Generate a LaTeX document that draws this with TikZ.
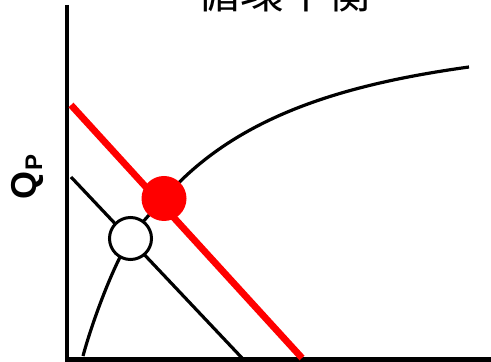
\documentclass[tikz,border=0pt]{standalone}
\usepackage{fontspec}
\setmainfont{Liberation Sans}
\newfontfamily\cjkfont{Noto Sans CJK JP}
\usepackage{tikz}
\usetikzlibrary{positioning}
\usepackage{xcolor}
\definecolor{EqRed}{HTML}{FF0000}

\begin{document}
\begin{tikzpicture}[x=0.5pt, y=-0.5pt,
    axis/.style={line width=2.2pt},
    fnline/.style={line width=1.6pt},
    redline/.style={draw=EqRed, line width=3.4pt},
    eqopen/.style={circle, draw, line width=1.5pt, fill=white, minimum size=21pt, inner sep=0pt},
    eqfill/.style={circle, fill=EqRed, minimum size=22.5pt, inner sep=0pt}
  ]
    \useasboundingbox (0,0) rectangle (491,362);

    \coordinate (o) at (67,359.5);
    \coordinate (ytop) at (67,5);
    \coordinate (xend) at (491,359.5);
    \draw[axis] (ytop) -- (o) -- (xend);

    % shifted (red) and original line
    \coordinate (r1) at (71,105);
    \coordinate (r2) at (302,358);
    \coordinate (b1) at (71,177);
    \coordinate (b2) at (242,358);
    \draw[redline] (r1) -- (r2);
    \draw[fnline] (b1) -- (b2);

    % rising curve through both equilibria
    \coordinate (c0) at (83,356);
    \coordinate (ca) at (130.5,238.5);
    \coordinate (cb) at (164,198.5);
    \coordinate (c9) at (469,67);
    \draw[fnline] (c0) .. controls (93,319) and (114.5,262.5) .. (ca)
                       .. controls (141,222.5) and (153,211) .. (cb)
                       .. controls (234,118) and (339,85) .. (c9);

    \node[eqopen] (eqa) at (ca) {};
    \node[eqfill] (eqb) at (cb) {};

    \node[anchor=base, font=\cjkfont\fontsize{22}{22}\selectfont] (title) at (284,9) {循環平衡};
    \node[rotate=90, font=\bfseries\fontsize{18}{18}\selectfont] (qp) at (27,177) {Q\raisebox{-3pt}{\fontsize{12}{12}\selectfont P}};
\end{tikzpicture}
\end{document}
